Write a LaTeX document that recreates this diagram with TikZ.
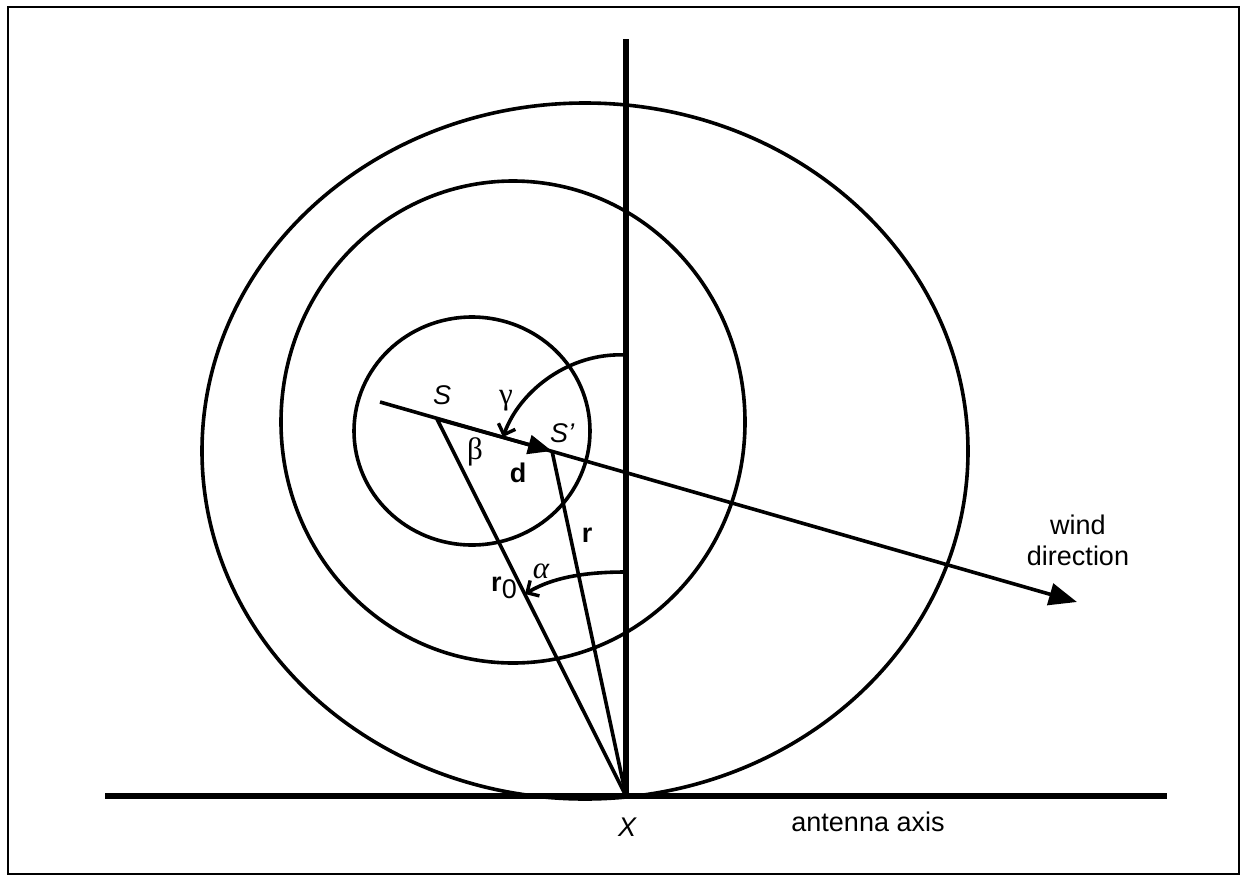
\documentclass[tikz,border=0pt]{standalone}
\usepackage{fontspec}
\setmainfont{Liberation Sans}
\newfontfamily\grk{Liberation Serif}
\usetikzlibrary{arrows.meta}
\begin{document}
\begin{tikzpicture}[x=1pt,y=-1pt,
  circ/.style={line width=3.6pt},
  thinline/.style={line width=3.6pt},
  thickline/.style={line width=5.5pt},
  lbl/.style={font=\fontsize{27}{31}\selectfont, inner sep=0pt},
  itlbl/.style={font=\fontsize{27}{31}\selectfont\itshape, inner sep=0pt},
  bflbl/.style={font=\fontsize{27}{31}\selectfont\bfseries, inner sep=0pt},
  grklbl/.style={font=\fontsize{31}{33}\selectfont\grk, inner sep=0pt},
  barb/.style={-{Straight Barb[length=9pt,width=18pt,line width=3.4pt]}}]
\useasboundingbox (0,0) rectangle (1242,876);
\draw[line width=2.8pt] (8,7) rectangle (1239,874);
% points
\coordinate (X) at (626,796);
\coordinate (T) at (626,39);
\coordinate (AL) at (105,796);
\coordinate (AR) at (1167,796);
\coordinate (W0) at (380,402);
\coordinate (W1) at (1077,602);
\coordinate (S) at (437,419);
\coordinate (Sp) at (552,451);
\coordinate (G0) at (626,355);
\coordinate (G1) at (503,437);
\coordinate (A0) at (626,572);
\coordinate (A1) at (525,594);
% circles
\draw[circ] (585,451) ellipse [x radius=383, y radius=348];
\draw[circ] (513,422) ellipse [x radius=232, y radius=241];
\draw[circ] (472,431) ellipse [x radius=118, y radius=114];
% axes
\draw[thickline] (T) -- (X);
\draw[thickline] (AL) -- (AR);
% wind line
\draw[thinline, -{Triangle[length=28pt,width=22pt]}] (W0) -- (W1);
\draw[thinline, -{Triangle[length=24pt,width=19pt]}] (S) -- (Sp);
% radii
\draw[thinline] (S) -- (X);
\draw[thinline] (Sp) -- (X);
% angle arcs
\draw[thinline, barb] (G0) .. controls (570,352) and (520,390) .. (G1);
\draw[thinline, barb] (A0) .. controls (590,572) and (555,576) .. (A1);
% labels
\node[itlbl] (lS) at (442,395) {S};
\node[itlbl] (lSp) at (562,433) {S'};
\node[grklbl] (lg) at (506,401) {γ};
\node[grklbl] (lb) at (475,452) {β};
\node[bflbl] (ld) at (518,473) {d};
\node[bflbl] (lr) at (587,535) {r};
\node[lbl] (lr0) at (504,588) {\textbf{r}\raisebox{-0.25em}{0}};
\node[grklbl, font=\fontsize{31}{33}\selectfont\grk\itshape] (la) at (541,571) {α};
\node[itlbl] (lX) at (627,827) {X};
\node[lbl] (lax) at (868,822) {antenna axis};
\node[lbl, align=center] (lw) at (1078,540) {wind\\direction};
\end{tikzpicture}
\end{document}
